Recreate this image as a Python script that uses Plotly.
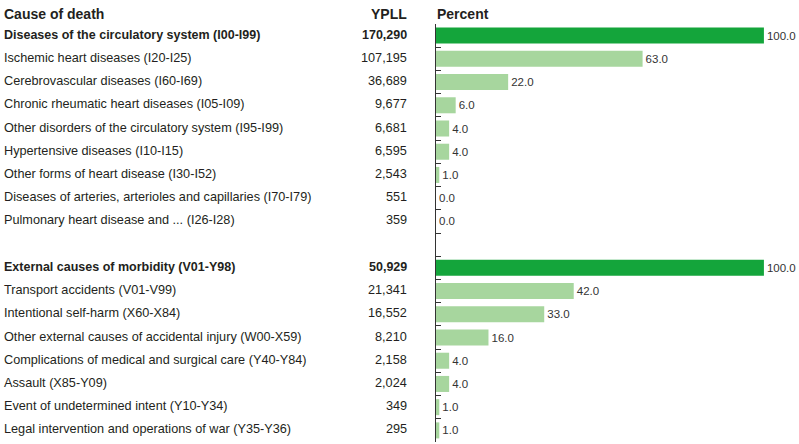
import plotly.graph_objects as go

# rows top to bottom; "" is the spacer row between the two groups
causes = [
    "Diseases of the circulatory system (I00-I99)",
    "Ischemic heart diseases (I20-I25)",
    "Cerebrovascular diseases (I60-I69)",
    "Chronic rheumatic heart diseases (I05-I09)",
    "Other disorders of the circulatory system (I95-I99)",
    "Hypertensive diseases (I10-I15)",
    "Other forms of heart disease (I30-I52)",
    "Diseases of arteries, arterioles and capillaries (I70-I79)",
    "Pulmonary heart disease and ... (I26-I28)",
    "",
    "External causes of morbidity (V01-Y98)",
    "Transport accidents (V01-V99)",
    "Intentional self-harm (X60-X84)",
    "Other external causes of accidental injury (W00-X59)",
    "Complications of medical and surgical care (Y40-Y84)",
    "Assault (X85-Y09)",
    "Event of undetermined intent (Y10-Y34)",
    "Legal intervention and operations of war (Y35-Y36)",
]
ypll = [170290, 107195, 36689, 9677, 6681, 6595, 2543, 551, 359, None,
        50929, 21341, 16552, 8210, 2158, 2024, 349, 295]
percent = [100.0, 63.0, 22.0, 6.0, 4.0, 4.0, 1.0, 0.0, 0.0, None,
           100.0, 42.0, 33.0, 16.0, 4.0, 4.0, 1.0, 1.0]
is_total = [True] + [False] * 8 + [False] + [True] + [False] * 7

DARK = "#14a53b"
LIGHT = "#a7d69e"
FONT = "Liberation Sans, Arial, sans-serif"

rows = list(range(len(causes)))
colors = [DARK if t else LIGHT for t in is_total]
labels = ["" if p is None else f"{p:.1f}" for p in percent]

fig = go.Figure()
fig.add_trace(go.Bar(
    x=percent, y=rows, orientation="h", width=0.69,
    marker=dict(color=colors, line=dict(width=0)),
    text=labels, textposition="outside", constraintext="none",
    textfont=dict(family=FONT, size=11.5, color="#333333"),
    cliponaxis=False, hoverinfo="skip",
))

ann = []
for i, (c, v, t) in enumerate(zip(causes, ypll, is_total)):
    if not c:
        continue
    ann.append(dict(x=0.002, y=i, xref="paper", yref="y", xanchor="left",
                    yanchor="middle", showarrow=False, yshift=1,
                    text=f"<b>{c}</b>" if t else c,
                    font=dict(family=FONT, size=12.5 if t else 12.7, color="#231f20")))
    ann.append(dict(x=0.512, y=i, xref="paper", yref="y", xanchor="right",
                    yanchor="middle", showarrow=False, yshift=1,
                    text=f"<b>{v:,}</b>" if t else f"{v:,}",
                    font=dict(family=FONT, size=12.5 if t else 12.7, color="#231f20")))

for txt, xp, anchor in [("Cause of death", 0.002, "left"), ("YPLL", 0.512, "right"),
                        ("Percent", 0.545, "left")]:
    ann.append(dict(x=xp, y=1, xref="paper", yref="paper", yanchor="bottom",
                    xanchor=anchor, showarrow=False, yshift=0,
                    text=f"<b>{txt}</b>",
                    font=dict(family=FONT, size=14, color="#231f20")))

fig.update_layout(
    width=799, height=444,
    margin=dict(l=0, r=0, t=24, b=2),
    paper_bgcolor="white", plot_bgcolor="white",
    showlegend=False, annotations=ann,
    xaxis=dict(domain=[0.5457, 1], range=[0, 110.7], visible=False),
    yaxis=dict(range=[17.5, -0.5], tickvals=[i - 0.5 for i in range(len(causes) + 1)],
               ticks="inside", ticklen=5, tickcolor="#333333", showticklabels=False,
               showline=True, linecolor="#333333", linewidth=1,
               showgrid=False, zeroline=False),
)

fig.write_html("out.html", config={"displayModeBar": False},
               post_script="document.body.style.margin='0';")
